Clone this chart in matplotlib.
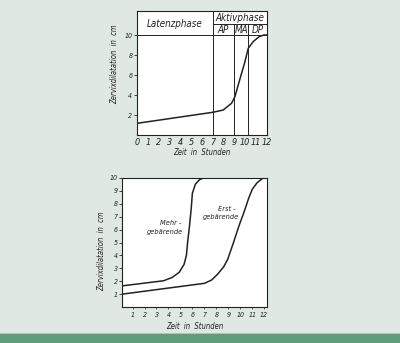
import matplotlib
matplotlib.use("Agg")
import matplotlib.pyplot as plt
from matplotlib.patches import Rectangle

# ---- data ----
top_x = [0, 7.0, 7.98, 8.75, 9.06, 9.5, 9.95, 10.3, 10.75, 11.3, 11.75, 12.0]
top_y = [1.17, 2.27, 2.5, 3.17, 3.83, 5.5, 7.17, 8.67, 9.33, 9.83, 10.0, 10.0]
top_xticks = list(range(0, 13))
top_yticks = [2, 4, 6, 8, 10]
phase_bounds = [7, 9, 10.3]
phase_labels = ["AP", "MA", "DP"]

mehr_x = [0, 3.6, 4.3, 4.9, 5.3, 5.5, 5.6, 5.75, 5.9, 6.0, 6.25, 6.6, 7.0, 7.2]
mehr_y = [1.64, 2.05, 2.3, 2.7, 3.3, 4.0, 5.0, 6.2, 7.6, 8.8, 9.5, 9.85, 10.0, 10.0]
erst_x = [0, 7.0, 7.6, 8.1, 8.6, 8.95, 9.4, 9.9, 10.3, 10.7, 11.0, 11.4, 11.8, 12.0]
erst_y = [1.0, 1.85, 2.1, 2.55, 3.1, 3.7, 4.9, 6.3, 7.3, 8.4, 9.1, 9.6, 9.9, 10.0]
bot_xticks = list(range(1, 13))
bot_yticks = list(range(1, 11))

BG = "#dfe8e2"
plt.rcParams["font.family"] = ["DejaVu Sans"]
plt.rcParams["font.style"] = "italic"
plt.rcParams["font.stretch"] = "condensed"

fig = plt.figure(figsize=(4.0, 3.43), dpi=100, facecolor=BG)

# green bar at bottom
fig.patches.append(Rectangle((0, 0), 1, 8.7 / 343, transform=fig.transFigure,
                             facecolor="#5f9e79", edgecolor="none", zorder=0))
fig.patches.append(Rectangle((0, 8.7 / 343), 1, 1.2 / 343, transform=fig.transFigure,
                             facecolor="#a8c8b2", edgecolor="none", zorder=0))

ink = "#222222"

# ---------- top chart ----------
ax1 = fig.add_axes([0.343, 0.6064, 0.3235, 0.3615])
ax1.set_facecolor("white")
ax1.set_xlim(0, 12)
ax1.set_ylim(0, 12.4)
ax1.plot(top_x, top_y, color=ink, lw=1.1)
ax1.axhline(10, color=ink, lw=0.7)
ax1.plot([7, 7], [0, 12.4], color=ink, lw=0.7)
for b in phase_bounds[1:]:
    ax1.plot([b, b], [0, 11.1], color=ink, lw=0.7)
ax1.plot([7, 12], [11.1, 11.1], color=ink, lw=0.7)
ax1.text(3.5, 11.15, "Latenzphase", ha="center", va="center", fontsize=7, color=ink)
ax1.text(9.5, 11.7, "Aktivphase", ha="center", va="center", fontsize=7, color=ink)
edges = phase_bounds + [12]
for lab, a, b in zip(phase_labels, edges[:-1], edges[1:]):
    ax1.text((a + b) / 2, 10.5, lab, ha="center", va="center", fontsize=7, color=ink)
ax1.set_xticks(top_xticks)
ax1.set_xticklabels([str(t) for t in top_xticks], fontsize=6.5)
ax1.set_yticks(top_yticks)
ax1.set_yticklabels([str(t) for t in top_yticks], fontsize=5)
ax1.tick_params(axis="x", length=0, pad=2, colors=ink)
ax1.tick_params(axis="y", length=2, width=0.6, pad=1.5, colors=ink)
ax1.set_xlabel("Zeit  in  Stunden", fontsize=5.5, labelpad=1, color=ink)
ax1.set_ylabel("Zervixdilatation  in  cm", fontsize=5.5, color=ink)
ax1.yaxis.set_label_coords(-0.141, 0.573)
for s in ax1.spines.values():
    s.set_linewidth(0.8)
    s.set_color(ink)

# ---------- bottom chart ----------
ax2 = fig.add_axes([0.306, 0.104, 0.361, 0.378])
ax2.set_facecolor("white")
ax2.set_xlim(0.15, 12.22)
ax2.set_ylim(0, 10)
ax2.plot(mehr_x, mehr_y, color=ink, lw=1.1)
ax2.plot(erst_x, erst_y, color=ink, lw=1.1)
ax2.text(5.12, 6.5, "Mehr -", ha="right", va="center", fontsize=5.3, color=ink)
ax2.text(5.25, 5.8, "gebärende", ha="right", va="center", fontsize=5.3, color=ink)
ax2.text(8.18, 7.62, "Erst -", ha="left", va="center", fontsize=5.3, color=ink)
ax2.text(8.39, 6.93, "gebärende", ha="center", va="center", fontsize=5.3, color=ink)
ax2.set_xticks(bot_xticks)
ax2.set_xticklabels([str(t) for t in bot_xticks], fontsize=5)
ax2.set_yticks(bot_yticks)
ax2.set_yticklabels([str(t) for t in bot_yticks], fontsize=5)
ax2.tick_params(axis="x", length=1.5, width=0.5, pad=2, colors=ink)
ax2.tick_params(axis="y", length=2, width=0.6, pad=1.5, colors=ink)
ax2.set_xlabel("Zeit  in  Stunden", fontsize=5.5, labelpad=3, color=ink)
ax2.set_ylabel("Zervixdilatation  in  cm", fontsize=5.5, color=ink)
ax2.yaxis.set_label_coords(-0.113, 0.434)
for s in ax2.spines.values():
    s.set_linewidth(0.8)
    s.set_color(ink)

fig.savefig("out.png", dpi=100, facecolor=BG)
